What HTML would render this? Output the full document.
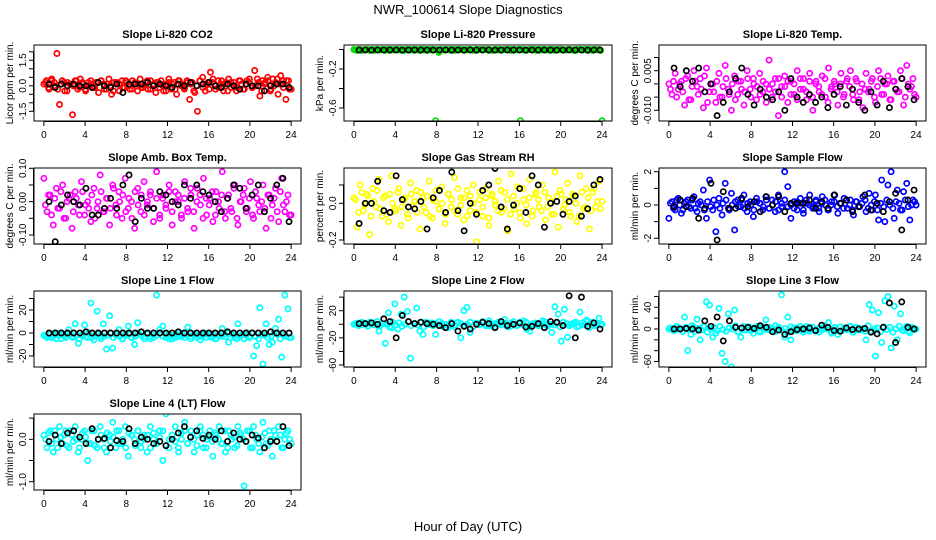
<!DOCTYPE html>
<html><head><meta charset="utf-8"><style>
body{margin:0;background:#fff}
svg{display:block;font-family:"Liberation Sans",sans-serif}
</style></head><body>
<svg id="chart" width="936" height="540" viewBox="0 0 936 540">
<rect width="936" height="540" fill="#fff"/>
<text x="468" y="14" text-anchor="middle" font-size="13">NWR_100614  Slope Diagnostics</text>
<text x="468" y="531" text-anchor="middle" font-size="13">Hour of Day (UTC)</text>
</svg>
<script>
const xTicks=[0,4,8,12,16,20,24];
const co2=[0.1,0.3,-0.2,0.4,0.2,1.9,-1.1,0.3,-0.3,0.2,0.1,-1.7,0.3,-0.2,0.4,0.1,-0.3,0.2,0.3,-0.1,0.2,-0.4,0.3,0.1,-0.2,0.4,-0.5,0.2,0.1,-0.3,0.3,-0.1,0.2,-0.2,0.3,0.1,-0.3,0.4,-0.1,0.2,-0.2,0.3,0.1,-0.4,0.2,0.3,-0.3,0.1,0.4,-0.2,0.2,-0.5,0.3,0.1,-0.2,0.3,-0.8,0.2,-0.4,-1.5,0.3,0.5,-0.3,0.2,0.8,0.4,-0.2,0.3,0.1,-0.3,0.2,0.4,-0.1,0.2,-0.3,0.3,0.1,-0.2,0.3,0.2,-0.1,0.9,0.4,-0.6,0.3,0.2,0.5,-0.3,0.4,0.2,-0.5,0.6,0.3,-0.8,0.3,-0.2];
const co2B=[0.2,-0.1,0.3,0.0,-0.2,0.1,0.2,-0.3,0.1,0.0,0.3,-0.1,0.2,-0.2,0.0,0.1,-0.1,0.2,0.3,-0.2,0.1,0.0,-0.3,0.2,0.1,-0.1,0.3,0.0,-0.2,0.2,0.1,-0.1,0.0,0.3,-0.2,0.1,0.2,-0.1,0.0,-0.3,0.2,0.1,-0.2,0.3,0.0,-0.1,0.2,0.1,-0.3,0.0,0.3,-0.1,0.1,-0.2,0.2,0.0,-0.1,0.3,0.1,-0.3,0.2,0.0,-0.1,0.3,-0.2,0.1,0.4,-0.1,0.0,0.2,-0.3,0.1,0.3,-0.2,0.0,0.4,0.1,-0.1,0.3,-0.2];
const co2K=[0.1,-0.1,0.1,0,0.1,0,0,-0.1,0.2,0,-0.1,0.1,-0.4,0.1,0.1,0.1,0.2,0,0.1,0,-0.1,0.1,0,0.2,0,0.1,0.2,0,-0.1,0.1,0,-0.2,0.1,0,0,-0.3,0,0.1,0.1,-0.1];
const pres=[0,-0.01,0,-0.005,0,-0.01,0,0,-0.005,0,-0.01,0,0,-0.005,0,0,-0.01,0,-0.005,0,0,-0.01,0,0,-0.005,0,-0.73,-0.03,0,-0.005,0,0,-0.01,0,0,-0.005,0,0,-0.01,0,0,-0.005,0,0,-0.01,0,0,-0.005,0,0,-0.01,0,0,-0.73,0,-0.005,0,0,-0.01,0,0,-0.005,0,0,-0.01,0,0,-0.005,0,0,-0.01,0,0,-0.005,0,0,-0.01,0,0,-0.73];
const presB=[-0.005,0,-0.01,-0.005,0,-0.005,-0.01,0,-0.005,-0.005,0,-0.01,-0.005,0,-0.005,-0.01,0,-0.005,0,-0.01,-0.005,0,-0.005,-0.01,0,-0.005,0,-0.01,-0.005,0,-0.005,-0.01,0,-0.005,0,-0.01,-0.005,0,-0.005,-0.01,0,-0.005,0,-0.01,-0.005,0,-0.005,-0.01,0,-0.005,0,-0.01,-0.005,0,-0.005,-0.01,0,-0.005,0,-0.01,-0.005,0,-0.005,-0.01,0,-0.005,0,-0.01,-0.005,0,-0.005,-0.01,0,-0.005,0,-0.01,-0.005,0,-0.005,-0.01];
const presK=[-0.005,-0.004,-0.006,-0.005,-0.005,-0.004,-0.005,-0.006,-0.005,-0.004,-0.005,-0.005,-0.006,-0.005,-0.004,-0.005,-0.005,-0.006,-0.004,-0.005,-0.005,-0.004,-0.006,-0.005,-0.005,-0.004,-0.005,-0.006,-0.005,-0.004,-0.005,-0.005,-0.006,-0.005,-0.004,-0.005,-0.005,-0.006,-0.004,-0.005];
const temp=[0.000,-0.004,0.004,-0.002,0.001,-0.008,0.003,-0.006,0.005,-0.001,0.002,-0.009,0.006,-0.003,0.000,-0.007,0.004,-0.005,0.007,-0.002,-0.010,0.003,-0.004,0.001,-0.008,0.005,-0.002,0.002,-0.006,0.004,-0.003,0.000,0.009,-0.005,0.002,-0.012,-0.001,0.003,-0.007,0.001,-0.004,0.005,-0.002,0.002,-0.006,0.004,-0.010,0.001,-0.003,0.003,-0.005,0.006,-0.001,0.000,-0.008,0.004,-0.004,0.002,0.005,-0.006,0.001,-0.003,-0.009,0.004,-0.002,0.002,-0.007,0.005,-0.004,0.000,0.003,-0.006,0.001,-0.003,0.005,-0.008,0.007,-0.002,0.002,-0.005];
const tempB=[-0.002,0.001,-0.005,0.000,-0.003,0.002,-0.006,-0.001,0.001,-0.004,-0.002,0.003,-0.007,0.000,-0.003,0.001,-0.005,-0.001,0.002,-0.004,0.000,-0.006,0.001,-0.002,-0.003,0.002,-0.005,0.000,-0.001,-0.004,0.001,-0.007,-0.002,0.000,-0.003,0.002,-0.005,-0.001,0.001,-0.004,0.000,-0.006,0.002,-0.002,-0.003,0.001,-0.005,0.000,-0.001,-0.004,0.002,-0.007,-0.002,0.001,-0.003,0.000,-0.005,0.001,-0.001,-0.004,0.002,-0.006,0.000,-0.002,-0.003,0.001,-0.005,-0.001,0.002,-0.004,0.000,-0.006,0.001,-0.002,-0.003,0.002,-0.005,0.000,-0.001,-0.004];
const tempK=[0.006,-0.001,0.005,0.001,0.006,-0.003,0.0,-0.012,-0.007,-0.003,0.002,0.006,-0.004,-0.008,-0.002,-0.005,-0.006,-0.003,-0.010,0.002,-0.005,-0.007,-0.004,-0.007,-0.005,-0.009,-0.004,-0.001,-0.008,-0.002,-0.007,-0.010,-0.003,-0.008,0.001,-0.009,-0.002,0.002,-0.001,-0.006];
const amb=[0.07,-0.03,0.02,-0.07,0.04,-0.02,0.05,-0.05,0.01,-0.08,0.03,-0.01,0.06,-0.04,0.00,-0.06,0.04,-0.02,0.08,-0.03,0.01,-0.07,0.05,-0.01,0.03,-0.05,0.07,-0.02,0.00,-0.08,0.04,-0.03,0.06,-0.01,0.02,-0.06,0.09,-0.04,0.01,-0.02,0.05,-0.07,0.03,0.00,-0.05,0.06,-0.03,0.02,-0.08,0.04,-0.01,0.07,-0.04,0.01,-0.06,0.03,-0.02,0.09,-0.05,0.02,-0.03,0.05,-0.07,0.00,0.04,-0.02,0.06,-0.05,0.01,-0.03,0.05,-0.08,0.02,-0.01,0.04,-0.06,0.07,-0.03,0.02,-0.04];
const ambB=[-0.01,0.02,-0.04,0.01,-0.02,0.03,-0.05,0.00,0.02,-0.03,0.01,-0.04,0.03,-0.01,-0.02,0.02,-0.05,0.00,0.03,-0.03,0.01,-0.02,0.04,-0.04,0.00,0.02,-0.03,0.01,-0.05,0.03,-0.01,0.02,-0.04,0.00,0.03,-0.02,0.01,-0.05,0.02,-0.01,0.03,-0.03,0.00,0.02,-0.04,0.01,-0.02,0.04,-0.03,0.00,0.02,-0.05,0.01,-0.01,0.03,-0.04,0.00,0.02,-0.03,0.01,-0.02,0.04,-0.05,0.00,0.02,-0.03,0.01,-0.04,0.03,-0.01,0.00,-0.02,0.02,-0.05,0.01,-0.03,0.03,-0.01,0.00,-0.04];
const ambK=[0.00,-0.12,-0.01,0.02,0.00,-0.01,0.04,-0.04,-0.04,-0.02,0.01,-0.02,0.05,0.08,-0.06,0.01,-0.02,-0.02,0.03,0.02,0.00,-0.01,0.05,0.01,0.05,0.03,0.02,0.00,-0.03,0.01,0.05,0.04,-0.02,0.02,0.05,-0.03,0.01,0.05,0.07,-0.06];
const rh=[0.03,-0.13,0.10,-0.04,0.05,-0.17,0.08,-0.02,0.13,-0.07,0.04,-0.10,0.15,-0.03,0.06,-0.12,0.02,-0.06,0.11,-0.01,0.07,-0.14,0.03,-0.05,0.12,-0.08,0.01,-0.03,0.09,-0.11,0.05,-0.02,0.14,-0.06,0.03,-0.09,0.07,-0.04,0.10,-0.21,0.02,-0.07,0.08,-0.12,0.04,-0.01,0.12,-0.05,0.06,-0.15,0.16,-0.03,0.09,-0.08,0.02,-0.11,0.13,-0.04,0.06,-0.02,0.10,-0.09,0.03,-0.06,0.17,-0.13,0.05,-0.01,0.11,-0.07,0.04,-0.10,0.15,-0.03,0.08,-0.14,0.06,-0.02,0.12,0.01];
const rhB=[0.02,-0.05,0.06,-0.01,0.04,-0.07,0.01,0.07,-0.03,0.03,-0.06,0.05,0.00,-0.04,0.08,-0.02,0.03,-0.08,0.05,0.01,-0.05,0.06,-0.02,0.04,-0.07,0.02,0.07,-0.03,0.00,-0.06,0.05,0.02,-0.04,0.08,-0.01,0.03,-0.07,0.04,0.00,-0.05,0.06,-0.02,0.03,-0.08,0.05,0.01,-0.04,0.07,-0.03,0.02,-0.06,0.04,0.00,-0.05,0.08,-0.01,0.03,-0.07,0.05,0.02,-0.04,0.06,-0.02,0.01,-0.06,0.04,0.07,-0.03,0.02,-0.05,0.05,0.00,-0.07,0.06,-0.02,0.03,-0.04,0.08,0.01,-0.03];
const rhK=[-0.11,0.00,0.00,0.12,-0.04,-0.05,0.15,0.02,-0.02,-0.03,0.01,-0.14,0.03,0.07,-0.05,0.17,-0.04,-0.15,0.00,-0.06,0.07,0.10,0.19,-0.02,-0.14,-0.01,0.08,-0.05,0.15,0.10,-0.13,0.00,0.01,-0.06,0.01,0.04,-0.07,-0.03,0.10,0.13];
const samp=[-0.8,0.2,-0.3,0.4,-0.5,0.1,0.3,-0.2,0.5,-0.4,0.2,0.9,-0.8,1.5,-0.3,-1.6,0.4,-0.6,1.3,-0.2,0.7,-1.5,0.3,-0.1,0.6,-0.4,0.2,-0.7,0.4,0.1,-0.3,0.5,-0.2,0.3,-0.4,0.6,-0.1,2.0,1.1,-0.8,0.2,-0.3,0.4,-0.5,0.1,0.6,-0.2,0.3,-0.4,0.5,0.0,-0.3,0.2,0.6,-0.5,0.1,0.4,-0.2,0.3,-0.6,0.2,-0.1,0.5,-0.4,0.7,-0.3,0.6,-0.9,1.5,-1.0,1.2,2.0,-0.8,0.9,-0.3,0.8,1.3,-0.9,0.3,0.0];
const sampB=[0.1,-0.2,0.3,0.0,-0.3,0.2,-0.1,0.3,-0.2,0.1,0.0,-0.3,0.2,-0.1,0.3,0.0,-0.2,0.1,0.3,-0.3,0.0,0.2,-0.1,0.3,-0.2,0.1,0.0,-0.3,0.2,0.1,-0.1,0.3,-0.2,0.0,0.2,-0.3,0.1,0.3,-0.1,0.0,-0.2,0.2,0.1,-0.3,0.3,0.0,-0.1,0.2,-0.2,0.1,0.3,-0.3,0.0,0.2,-0.1,0.1,-0.2,0.3,0.0,-0.3,0.2,-0.1,0.1,0.3,-0.2,0.0,0.2,-0.3,0.1,-0.1,0.3,0.0,-0.2,0.2,0.1,-0.3,0.3,-0.1,0.0,0.2];
const sampK=[-0.1,0.3,-0.1,0.4,-0.8,-0.2,1.3,-2.1,0.8,-0.2,-0.2,0.4,-0.1,0.2,-0.4,0.5,0.0,0.5,-0.4,0.1,0.1,0.1,0.3,-0.2,0.2,-0.2,0.6,0.1,0.3,-0.4,-0.1,0.6,-0.3,0.1,-0.4,0.2,0.7,-1.5,0.3,0.9];
const l1=[-2,-4,-1,-3,-5,-2,-1,-4,3,-3,8,-9,-2,7,-4,26,-6,19,-3,8,-14,15,-13,-2,3,-5,-1,6,-4,-10,9,-2,-3,-1,-5,-2,33,3,6,-4,-1,-5,-2,-3,0,-4,5,-3,-1,-2,-6,-1,-4,-3,-1,-5,-2,4,-3,-8,-1,-4,8,-2,-5,0,-3,-20,-11,22,-27,8,-10,-8,4,12,-21,33,21,-4];
const l1B=[-3,-1,-4,-2,0,-5,-2,-3,-1,-4,-2,-5,-1,-3,0,-4,-2,-1,-5,-3,-2,0,-4,-1,-3,-5,-2,-1,-4,-3,0,-2,-5,-1,-3,-4,-2,0,-3,-1,-5,-2,-4,-1,-3,0,-2,-5,-1,-4,-3,-2,0,-1,-4,-5,-2,-3,-1,0,-4,-2,-5,-3,-1,-2,-4,0,-3,-5,-1,-2,-4,-3,0,-1,-5,-2,-3,-4];
const l1K=[0,0,0,0,0,0,1,0,0,0,0,0,0,0,0,1,0,0,0,0,0,1,0,0,0,0,0,0,0,1,0,0,0,0,0,0,1,0,0,0];
const l2=[0,1,-1,2,0,3,2,-1,-10,1,-28,17,-5,30,-7,15,40,19,-50,-75,24,-10,-15,3,0,2,-15,-2,1,0,-5,3,-1,2,-20,20,25,-12,-3,1,0,3,-2,5,-3,1,0,-1,7,-4,2,0,-2,3,5,-7,-10,1,0,-2,5,-1,0,-12,26,15,-25,22,-19,0,2,-4,18,-1,6,-5,3,-1,9,0];
const l2B=[1,-2,3,0,-3,2,-1,4,-2,1,0,-4,3,-1,2,-3,0,4,-2,1,-1,3,-4,0,2,-2,1,4,-3,0,-1,2,-4,3,1,-2,0,3,-3,2,-1,4,0,-2,1,-4,3,-1,2,0,-3,4,-2,1,-1,3,-4,0,2,-2,1,4,-3,0,-1,2,-4,3,1,-2,0,3,-3,2,-1,4,0,-2,1,-1];
const l2K=[1,1,2,0,8,4,-20,13,4,1,3,1,0,-2,-5,1,-10,-3,-7,0,3,1,-5,4,-2,0,2,-4,-3,1,-5,4,3,-2,42,-20,40,-3,2,-7];
const l3=[0,1,-2,2,0,22,-40,-10,3,18,-20,5,50,44,-15,-8,38,-45,-60,28,-70,35,-5,-15,5,-2,3,-8,1,-3,4,17,-2,1,-5,3,63,-15,22,-20,2,-3,5,-2,1,-4,3,-1,-6,2,0,12,-8,3,-10,-4,2,-1,5,-6,3,-2,0,-20,45,35,-50,30,-25,52,60,-35,42,-20,28,-3,5,-7,2,0];
const l3B=[2,-3,5,0,-5,3,-1,6,-4,1,-2,4,-6,0,3,-3,5,-1,-4,2,0,6,-5,1,-2,4,-3,0,5,-6,2,-1,3,-4,6,0,-2,1,-5,4,-3,2,0,-6,5,-1,3,-4,1,-2,6,0,-5,2,-3,4,-1,0,5,-6,3,-2,1,-4,6,-3,0,2,-5,4,-1,3,-6,0,5,-2,1,-4,3,-1];
const l3K=[0,0,1,0,-2,15,5,22,-22,15,3,2,3,1,6,3,-5,-2,-10,-5,-1,0,2,-3,7,3,-3,-4,2,-1,0,1,-6,-9,3,48,-25,50,3,0];
const l4=[0.1,-0.2,0.2,-0.3,0.0,0.3,-0.1,0.2,-0.2,0.1,0.3,-0.3,0.0,0.2,-0.5,-0.1,0.2,-0.2,0.3,0.0,-0.3,0.1,0.4,-0.2,0.2,-0.1,0.3,-0.4,0.1,0.0,0.2,-0.2,0.1,-0.3,0.3,0.0,-0.1,0.2,-0.5,0.6,-0.2,0.1,0.3,-0.3,0.0,0.4,-0.1,0.2,-0.3,0.1,0.3,-0.2,0.0,0.2,-0.4,0.1,0.3,-0.1,-0.3,0.2,0.0,-0.2,0.3,0.1,-1.1,0.2,-0.2,0.3,0.0,-0.3,0.4,-0.1,0.2,-0.4,0.1,0.3,-0.2,0.0,0.2,-0.1];
const l4B=[0.0,0.15,-0.1,0.2,-0.2,0.05,0.1,-0.15,0.2,-0.05,0.0,-0.2,0.15,0.05,-0.1,0.2,-0.15,0.0,0.1,-0.2,0.15,-0.05,0.05,0.2,-0.1,0.0,-0.2,0.15,0.1,-0.15,0.2,-0.05,0.0,0.1,-0.2,0.15,-0.1,0.05,0.2,-0.15,0.0,0.1,-0.05,-0.2,0.15,0.2,-0.1,0.05,0.0,-0.15,0.2,0.1,-0.2,0.05,-0.05,0.15,0.0,-0.1,0.2,-0.2,0.1,0.05,-0.15,0.15,0.0,-0.05,0.2,-0.2,0.1,-0.1,0.05,0.15,-0.15,0.0,0.2,-0.05,0.1,-0.2,0.15,0.0];
const l4K=[-0.05,0.1,-0.1,0.15,0.2,0.05,-0.1,0.25,0.0,0.02,-0.2,-0.03,-0.05,0.25,-0.1,0.05,0.0,-0.1,-0.05,-0.15,0.0,0.15,0.3,0.05,0.2,0.02,0.1,0.0,0.2,-0.05,0.15,0.0,-0.05,0.1,0.03,-0.2,-0.05,-0.05,0.3,-0.15];

const colX=[[34,301],[344,612],[659,926]];
const rowY=[[45,121],[168,244],[291,367],[414,490]];
const panels=[
 {n:'co2',t:'Slope Li-820 CO2',yl:'Licor ppm per min.',c:'#ff0000',d:co2,b:co2B,k:co2K,r:0,col:0,cal:[1.5,60.3,-1.5,111.3],tk:[2,1.5,1,0.5,0,-0.5,-1,-1.5],lb:[[1.5,'1.5'],[0,'0.0'],[-1.5,'-1.5']]},
 {n:'pressure',t:'Slope Li-820 Pressure',yl:'kPa per min.',c:'#00dd00',d:pres,b:presB,k:presK,r:0,col:1,cal:[-0.2,69,-0.6,108],tk:[0,-0.2,-0.4,-0.6],lb:[[-0.2,'-0.2'],[-0.6,'-0.6']]},
 {n:'temp',t:'Slope Li-820 Temp.',yl:'degrees C per min.',c:'#ff00ff',d:temp,b:tempB,k:tempK,r:0,col:2,cal:[0.005,70.7,-0.01,110.3],tk:[0.01,0.005,0,-0.005,-0.01],lb:[[0.005,'0.005'],[-0.01,'-0.010']]},
 {n:'amb-box-temp',t:'Slope Amb. Box Temp.',yl:'degrees C per min.',c:'#ff00ff',d:amb,b:ambB,k:ambK,r:1,col:0,cal:[0.1,168.3,-0.1,235],tk:[0.1,0.05,0,-0.05,-0.1],lb:[[0.1,'0.10'],[0,'0.00'],[-0.1,'-0.10']]},
 {n:'gas-rh',t:'Slope Gas Stream RH',yl:'percent per min.',c:'#ffff00',d:rh,b:rhB,k:rhK,r:1,col:1,cal:[0,203.3,-0.2,240],tk:[0.1,0,-0.1,-0.2],lb:[[0,'0.0'],[-0.2,'-0.2']]},
 {n:'sample-flow',t:'Slope Sample Flow',yl:'ml/min per min.',c:'#0000ff',d:samp,b:sampB,k:sampK,r:1,col:2,cal:[2,171.7,-2,238.3],tk:[2,1,0,-1,-2],lb:[[2,'2'],[0,'0'],[-2,'-2']]},
 {n:'line1-flow',t:'Slope Line 1 Flow',yl:'ml/min per min.',c:'#00ffff',d:l1,b:l1B,k:l1K,r:2,col:0,cal:[20,310,-20,356],tk:[30,20,10,0,-10,-20],lb:[[20,'20'],[0,'0'],[-20,'-20']]},
 {n:'line2-flow',t:'Slope Line 2 Flow',yl:'ml/min per min.',c:'#00ffff',d:l2,b:l2B,k:l2K,r:2,col:1,cal:[20,310.7,-60,365],tk:[40,20,0,-20,-40,-60],lb:[[20,'20'],[-20,'-20'],[-60,'-60']]},
 {n:'line3-flow',t:'Slope Line 3 Flow',yl:'ml/min per min.',c:'#00ffff',d:l3,b:l3B,k:l3K,r:2,col:2,cal:[40,307.3,-60,361.5],tk:[60,40,20,0,-20,-40,-60],lb:[[40,'40'],[0,'0'],[-60,'-60']]},
 {n:'line4-flow',t:'Slope Line 4 (LT) Flow',yl:'ml/min per min.',c:'#00ffff',d:l4,b:l4B,k:l4K,r:3,col:0,cal:[0,439.3,-1,481.7],tk:[0.5,0,-0.5,-1],lb:[[0,'0.0'],[-1,'-1.0']]}
];
const NS='http://www.w3.org/2000/svg';
const svg=document.getElementById('chart');
function mk(tag,attrs,parent){const e=document.createElementNS(NS,tag);for(const a in attrs)e.setAttribute(a,attrs[a]);parent.appendChild(e);return e;}
panels.forEach(p=>{
 const [L,R]=colX[p.col],[T,B]=rowY[p.r];
 const xs=h=>L+(h+0.96)/25.92*(R-L);
 const ys=v=>p.cal[1]+(v-p.cal[0])*(p.cal[3]-p.cal[1])/(p.cal[2]-p.cal[0]);
 const g=mk('g',{},svg);
 
 
 const clip=mk('clipPath',{id:'cl'+p.n},g);
 mk('rect',{x:L,y:T,width:R-L,height:B-T},clip);
 const pts=mk('g',{'clip-path':'url(#cl'+p.n+')',fill:'none','stroke-width':1.7},g);
 
 
 p.b.forEach((v,i)=>{const c=mk('circle',{cx:xs(24*(i+0.5)/p.b.length),cy:ys(v),r:2.6,stroke:p.c},pts);
  
  });
 p.d.forEach((v,i)=>{const c=mk('circle',{cx:xs(24*i/(p.d.length-1)),cy:ys(v),r:2.6,stroke:p.c},pts);
  
  });
 p.k.forEach((v,i)=>{const c=mk('circle',{cx:xs(0.5+23.3*i/(p.k.length-1)),cy:ys(v),r:2.6,stroke:'#000'},pts);
  
  });
 const box=mk('rect',{x:L,y:T,width:R-L,height:B-T,fill:'none',stroke:'#000','stroke-width':1},g);
 
 
 const ttl=mk('text',{x:(L+R)/2,y:T-7,'text-anchor':'middle','font-size':11,'font-weight':'bold'},g);ttl.textContent=p.t;
 
 
 mk('line',{x1:xs(0),x2:xs(24),y1:B+0.5,y2:B+0.5,stroke:'#000'},g);
 xTicks.forEach(h=>{mk('line',{x1:xs(h),x2:xs(h),y1:B,y2:B+5,stroke:'#000'},g);
  const tx=mk('text',{x:xs(h),y:B+17,'text-anchor':'middle','font-size':10},g);tx.textContent=h;
  
  });
 const ty=p.tk.map(ys).filter(y=>y>=T-1&&y<=B+1);
 if(ty.length)mk('line',{x1:L-0.5,x2:L-0.5,y1:Math.min(...ty),y2:Math.max(...ty),stroke:'#000'},g);
 p.tk.forEach(v=>{const y=ys(v);if(y<T-1||y>B+1)return;mk('line',{x1:L-5,x2:L,y1:y,y2:y,stroke:'#000'},g);});
 p.lb.forEach(([v,s])=>{const y=ys(v);const x=L-8;const t=mk('text',{x:x,y:y,'text-anchor':'middle','font-size':10,transform:`rotate(-90 ${x} ${y})`},g);t.textContent=s;
  
  });
 const yx=L-21,yy=(T+B)/2;
 const yt=mk('text',{x:yx,y:yy,'text-anchor':'middle','font-size':10,transform:`rotate(-90 ${yx} ${yy})`},g);yt.textContent=p.yl;
 
 
});
</script>
</body></html>
